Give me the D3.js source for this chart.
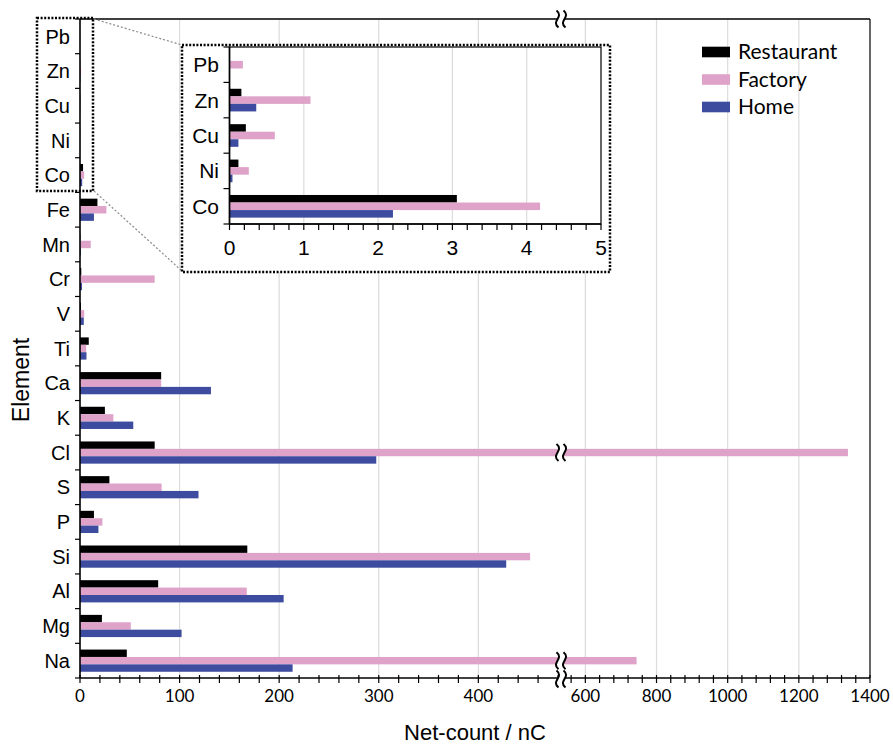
<!DOCTYPE html>
<html>
<head>
<meta charset="utf-8">
<script src="https://d3js.org/d3.v7.min.js"></script>
<style>
  body { margin: 0; background: #fff; }
  .narrow { font-family: "Liberation Sans Narrow", "Arial Narrow", "Liberation Sans", sans-serif; }
  .calib { font-family: Lato, "Open Sans", sans-serif; }
</style>
</head>
<body>
<script>
// element list, top to bottom
var elements = ["Pb", "Zn", "Cu", "Ni", "Co", "Fe", "Mn", "Cr", "V", "Ti", "Ca", "K", "Cl", "S", "P", "Si", "Al", "Mg", "Na"];
var restaurant = [0, 0.16, 0.22, 0.12, 3.06, 17.5, 0.3, 1.3, 1.0, 8.8, 81.5, 25, 75, 29.5, 14, 168, 78.5, 22, 47];
var factory    = [0.18, 1.09, 0.61, 0.26, 4.18, 26.5, 10.8, 75, 4.2, 6.2, 81.5, 33.5, 1338, 82, 22.5, 452, 167.5, 51, 744];
var home       = [0, 0.36, 0.12, 0.04, 2.2, 14, 0.8, 2.0, 3.8, 6.5, 131.5, 53.5, 297.5, 119, 18.5, 428, 204.5, 102, 213.5];

var seriesNames = ["Restaurant", "Factory", "Home"];
var seriesColors = ["#000000", "#dfa3c9", "#3e4c9f"];
var xTickValues = [0, 100, 200, 300, 400, 600, 800, 1000, 1200, 1400];
var insetElements = ["Pb", "Zn", "Cu", "Ni", "Co"];
var insetTickValues = [0, 1, 2, 3, 4, 5];

var series = [restaurant, factory, home];

var svg = d3.select("body").append("svg")
    .attr("width", 893)
    .attr("height", 744)
    .style("background", "#fff");

var plotL = 80, plotR = 870, plotT = 19, plotB = 678;
var breakX = 561;

// broken axis: 0-480 then 540-1400
var x = d3.scaleLinear()
    .domain([0, 480, 540, 1400])
    .range([plotL, 558, 564, plotR]);

var y = d3.scaleBand()
    .domain(elements)
    .range([plotT, plotB])
    .paddingInner(0.36)
    .paddingOuter(0.18);

var ySub = d3.scaleBand()
    .domain(seriesNames)
    .range([0, y.bandwidth()]);

// rows of data
var rows = [];
elements.forEach(function(el, i) {
    seriesNames.forEach(function(s, j) {
        rows.push({el: el, s: s, v: series[j][i], c: seriesColors[j]});
    });
});

// grid lines
svg.append("g").selectAll("line")
    .data(xTickValues.filter(function(d){ return d > 0 && d < 1400; }))
    .enter().append("line")
    .attr("x1", function(d){ return x(d); })
    .attr("x2", function(d){ return x(d); })
    .attr("y1", plotT).attr("y2", plotB)
    .attr("stroke", "#dcdcdc").attr("stroke-width", 1.2);

// bars
svg.append("g").selectAll("rect")
    .data(rows)
    .enter().append("rect")
    .attr("x", plotL)
    .attr("y", function(d){ return y(d.el) + ySub(d.s); })
    .attr("width", function(d){ return x(d.v) - plotL; })
    .attr("height", ySub.bandwidth())
    .attr("fill", function(d){ return d.c; });

function drawBreak(cx, cy, h) {
    var a = [cx - 3.5, cy], b = [cx + 3.5, cy];
    function curve(p) {
        var px = p[0], py = p[1];
        return {s: [px - 1, py - h], c1: [px + 7, py - h / 4], c2: [px - 7, py + h / 4], e: [px + 1, py + h]};
    }
    var k1 = curve(a), k2 = curve(b);
    var fill = "M" + k1.s + "C" + k1.c1 + " " + k1.c2 + " " + k1.e +
        "L" + k2.e + "C" + k2.c2 + " " + k2.c1 + " " + k2.s + "Z";
    svg.append("path").attr("d", fill).attr("fill", "#fff");
    [k1, k2].forEach(function(k) {
        svg.append("path")
            .attr("d", "M" + k.s + "C" + k.c1 + " " + k.c2 + " " + k.e)
            .attr("fill", "none").attr("stroke", "#000").attr("stroke-width", 2);
    });
}

// break marks on long bars
rows.filter(function(d){ return d.v > 540; }).forEach(function(d) {
    drawBreak(breakX, y(d.el) + ySub(d.s) + ySub.bandwidth() / 2, 8.5);
});

// frame
svg.append("line").attr("x1", plotR).attr("x2", plotR).attr("y1", plotT).attr("y2", plotB)
    .attr("stroke", "#404040").attr("stroke-width", 1.6);
svg.append("line").attr("x1", plotL).attr("x2", plotR).attr("y1", plotT).attr("y2", plotT)
    .attr("stroke", "#000").attr("stroke-width", 1.3);
svg.append("line").attr("x1", plotL).attr("x2", plotL).attr("y1", plotT).attr("y2", plotB)
    .attr("stroke", "#000").attr("stroke-width", 1.6);
svg.append("line").attr("x1", plotL).attr("x2", plotR).attr("y1", plotB).attr("y2", plotB)
    .attr("stroke", "#000").attr("stroke-width", 1.6);

// x ticks (major + minor)
var minor = d3.range(0, 481, 20).concat(d3.range(560, 1401, 40));
svg.append("g").selectAll("line")
    .data(minor)
    .enter().append("line")
    .attr("x1", function(d){ return x(d); })
    .attr("x2", function(d){ return x(d); })
    .attr("y1", plotB - 3).attr("y2", plotB + 5)
    .attr("stroke", "#000").attr("stroke-width", 1.2);

drawBreak(breakX, plotT, 8.5);
drawBreak(breakX, plotB + 1, 8.5);

svg.append("g").selectAll("text")
    .data(xTickValues)
    .enter().append("text")
    .attr("class", "calib")
    .attr("x", function(d){ return x(d); })
    .attr("y", 702)
    .attr("text-anchor", "middle")
    .attr("font-size", 17)
    .text(function(d){ return d; });

// y ticks
var step = y.step();
svg.append("g").selectAll("line")
    .data(d3.range(0, elements.length + 1))
    .enter().append("line")
    .attr("x1", plotL - 5).attr("x2", plotL)
    .attr("y1", function(i){ return plotT + i * step; })
    .attr("y2", function(i){ return plotT + i * step; })
    .attr("stroke", "#000").attr("stroke-width", 1.2);

svg.append("g").selectAll("text")
    .data(elements)
    .enter().append("text")
    .attr("class", "narrow")
    .attr("x", 70)
    .attr("y", function(d){ return y(d) + y.bandwidth() / 2; })
    .attr("dy", "0.36em")
    .attr("text-anchor", "end")
    .attr("font-size", 20)
    .text(function(d){ return d; });

// axis titles
svg.append("text").attr("class", "narrow")
    .attr("x", (plotL + plotR) / 2).attr("y", 740)
    .attr("text-anchor", "middle").attr("font-size", 22)
    .text("Net-count / nC");

svg.append("text").attr("class", "narrow")
    .attr("transform", "translate(29,380) rotate(-90)")
    .attr("text-anchor", "middle").attr("font-size", 23)
    .text("Element");

// small dotted box round Pb..Co and connectors
svg.append("rect")
    .attr("x", 37).attr("y", 18).attr("width", 56).attr("height", 173)
    .attr("fill", "none").attr("stroke", "#000").attr("stroke-width", 2.5)
    .attr("stroke-dasharray", "2,1.6");

svg.append("line").attr("x1", 94).attr("y1", 19).attr("x2", 182).attr("y2", 45)
    .attr("stroke", "#888").attr("stroke-width", 1.2).attr("stroke-dasharray", "2,2");
svg.append("line").attr("x1", 94).attr("y1", 191).attr("x2", 182).attr("y2", 271)
    .attr("stroke", "#888").attr("stroke-width", 1.2).attr("stroke-dasharray", "2,2");

// inset
var inL = 229.5, inR = 601, inT = 47, inB = 224;
svg.append("rect")
    .attr("x", 182).attr("y", 45).attr("width", 428).attr("height", 227)
    .attr("fill", "#fff").attr("stroke", "#000").attr("stroke-width", 2.5)
    .attr("stroke-dasharray", "2,1.6");

var xi = d3.scaleLinear().domain([0, 5]).range([inL, inR]);
var yi = d3.scaleBand().domain(insetElements).range([inT, inB])
    .paddingInner(0.36).paddingOuter(0.18);
var yiSub = d3.scaleBand().domain(seriesNames).range([0, yi.bandwidth()]);

var g = svg.append("g");

g.selectAll("line.grid")
    .data([1, 2, 3, 4])
    .enter().append("line")
    .attr("x1", function(d){ return xi(d); }).attr("x2", function(d){ return xi(d); })
    .attr("y1", inT).attr("y2", inB)
    .attr("stroke", "#dcdcdc").attr("stroke-width", 1.2);

g.selectAll("rect.bar")
    .data(rows.filter(function(d){ return insetElements.indexOf(d.el) >= 0; }))
    .enter().append("rect")
    .attr("x", inL)
    .attr("y", function(d){ return yi(d.el) + yiSub(d.s); })
    .attr("width", function(d){ return xi(d.v) - inL; })
    .attr("height", yiSub.bandwidth())
    .attr("fill", function(d){ return d.c; });

g.append("rect")
    .attr("x", inL).attr("y", inT).attr("width", inR - inL).attr("height", inB - inT)
    .attr("fill", "none").attr("stroke", "#000").attr("stroke-width", 1.2);
g.append("line").attr("x1", inL).attr("x2", inL).attr("y1", inT).attr("y2", inB)
    .attr("stroke", "#000").attr("stroke-width", 1.6);
g.append("line").attr("x1", inL).attr("x2", inR).attr("y1", inB).attr("y2", inB)
    .attr("stroke", "#000").attr("stroke-width", 1.6);

g.selectAll("line.xt")
    .data(d3.range(0, 26).map(function(i){ return i * 0.2; }))
    .enter().append("line")
    .attr("x1", function(d){ return xi(d); }).attr("x2", function(d){ return xi(d); })
    .attr("y1", inB).attr("y2", inB + 6)
    .attr("stroke", "#000").attr("stroke-width", 1.2);

g.selectAll("text.xl")
    .data(insetTickValues)
    .enter().append("text")
    .attr("class", "narrow")
    .attr("x", function(d){ return xi(d); })
    .attr("y", 255)
    .attr("text-anchor", "middle")
    .attr("font-size", 21)
    .text(function(d){ return d; });

var stepI = yi.step();
g.selectAll("line.yt")
    .data(d3.range(0, insetElements.length + 1))
    .enter().append("line")
    .attr("x1", inL - 6).attr("x2", inL)
    .attr("y1", function(i){ return inT + i * stepI; })
    .attr("y2", function(i){ return inT + i * stepI; })
    .attr("stroke", "#000").attr("stroke-width", 1.2);

g.selectAll("text.yl")
    .data(insetElements)
    .enter().append("text")
    .attr("class", "narrow")
    .attr("x", 219)
    .attr("y", function(d){ return yi(d) + yi.bandwidth() / 2; })
    .attr("dy", "0.36em")
    .attr("text-anchor", "end")
    .attr("font-size", 21)
    .text(function(d){ return d; });

// legend
var leg = svg.append("g").attr("transform", "translate(702,52)");
seriesNames.forEach(function(s, i) {
    leg.append("rect")
        .attr("x", 0).attr("y", i * 27.5 - 5.3)
        .attr("width", 28).attr("height", 10.6)
        .attr("fill", seriesColors[i]);
    leg.append("text")
        .attr("class", "calib")
        .attr("x", 36).attr("y", i * 27.5)
        .attr("dy", "0.35em")
        .attr("font-size", 21)
        .text(s);
});
</script>
</body>
</html>
